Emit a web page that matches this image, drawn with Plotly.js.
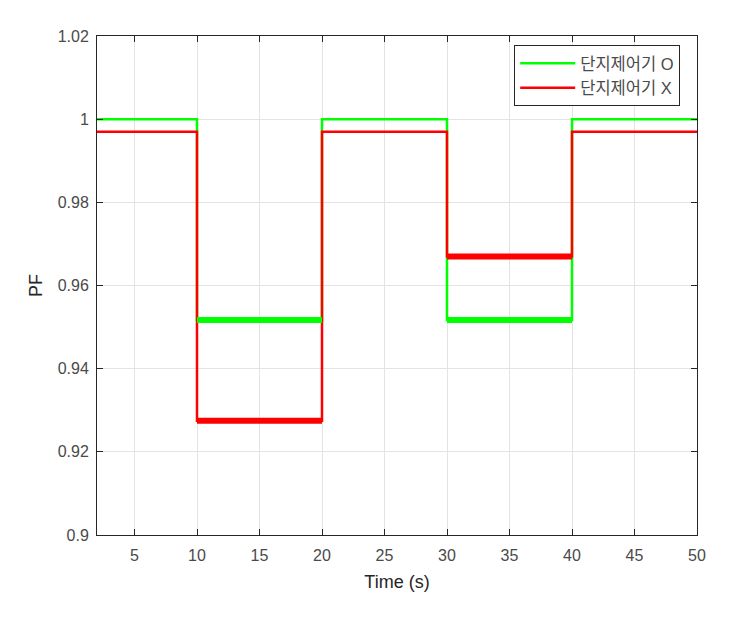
<!DOCTYPE html>
<html>
<head>
<meta charset="utf-8">
<script src="https://cdn.plot.ly/plotly-3.0.1.min.js"></script>
<style>html,body{margin:0;padding:0;background:#fff;}#chart{width:730px;height:617px;}</style>
</head>
<body>
<div id="chart"></div>
<script>
// Step-wise time points (s)
const time = [2, 10, 10, 20, 20, 30, 30, 40, 40, 50];
// PF with terminal controller (단지제어기 O)
const pfWith = [1.0, 1.0, 0.9517, 0.9517, 1.0, 1.0, 0.9517, 0.9517, 1.0, 1.0];
// PF without terminal controller (단지제어기 X)
const pfWithout = [0.997, 0.997, 0.9275, 0.9275, 0.997, 0.997, 0.967, 0.967, 0.997, 0.997];

// Noisy (thick) segments
const bandTimeA = [10, 20];
const bandTimeB = [30, 40];
const bandWithA = [0.9517, 0.9517];
const bandWithB = [0.9517, 0.9517];
const bandWithoutA = [0.9275, 0.9275];
const bandWithoutB = [0.967, 0.967];

const xTicks = [5, 10, 15, 20, 25, 30, 35, 40, 45, 50];
const yTicks = [0.9, 0.92, 0.94, 0.96, 0.98, 1.0, 1.02];
const yTickText = ['0.9', '0.92', '0.94', '0.96', '0.98', '1', '1.02'];

const green = '#00ff00';
const red = '#ff0000';

const traces = [
  {x: time, y: pfWith, type: 'scatter', mode: 'lines', name: '단지제어기 O',
   line: {color: green, width: 2.5}},
  {x: time, y: pfWithout, type: 'scatter', mode: 'lines', name: '단지제어기 X',
   line: {color: red, width: 2.5}},
  {x: bandTimeA, y: bandWithA, mode: 'lines', showlegend: false, hoverinfo: 'skip', line: {color: green, width: 6}},
  {x: bandTimeB, y: bandWithB, mode: 'lines', showlegend: false, hoverinfo: 'skip', line: {color: green, width: 6}},
  {x: bandTimeA, y: bandWithoutA, mode: 'lines', showlegend: false, hoverinfo: 'skip', line: {color: red, width: 6}},
  {x: bandTimeB, y: bandWithoutB, mode: 'lines', showlegend: false, hoverinfo: 'skip', line: {color: red, width: 6}}
];

const font = 'Liberation Sans, Arial, "Noto Sans CJK KR", sans-serif';

const layout = {
  width: 730, height: 617,
  margin: {l: 97, r: 33, t: 36, b: 82},
  paper_bgcolor: '#ffffff', plot_bgcolor: '#ffffff',
  font: {family: font, size: 15, color: '#333333'},
  xaxis: {
    range: [2, 50], tickvals: xTicks, ticks: 'inside', ticklen: 6, tickcolor: '#262626',
    showline: true, linecolor: '#262626', linewidth: 1, mirror: 'ticks',
    showgrid: true, gridcolor: '#e3e3e3', gridwidth: 1, zeroline: false,
    tickfont: {size: 16, color: '#4a4a4a'}, ticklabelstandoff: 6,
    title: {text: 'Time (s)', font: {size: 18, color: '#262626'}, standoff: 12}
  },
  yaxis: {
    range: [0.9, 1.02], tickvals: yTicks, ticktext: yTickText, ticks: 'inside', ticklen: 6, tickcolor: '#262626',
    showline: true, linecolor: '#262626', linewidth: 1, mirror: 'ticks',
    showgrid: true, gridcolor: '#e3e3e3', gridwidth: 1, zeroline: false,
    tickfont: {size: 16, color: '#4a4a4a'}, ticklabelstandoff: 4,
    title: {text: 'PF', font: {size: 18, color: '#262626'}, standoff: 10}
  },
  legend: {
    x: 0.972, xanchor: 'right', y: 0.982, yanchor: 'top',
    bgcolor: '#ffffff', bordercolor: '#262626', borderwidth: 1,
    font: {size: 16.5, color: '#4a4a4a'}, itemwidth: 55, tracegroupgap: 0
  },
  showlegend: true
};

Plotly.newPlot('chart', traces, layout, {staticPlot: true, displayModeBar: false});
</script>
</body>
</html>
